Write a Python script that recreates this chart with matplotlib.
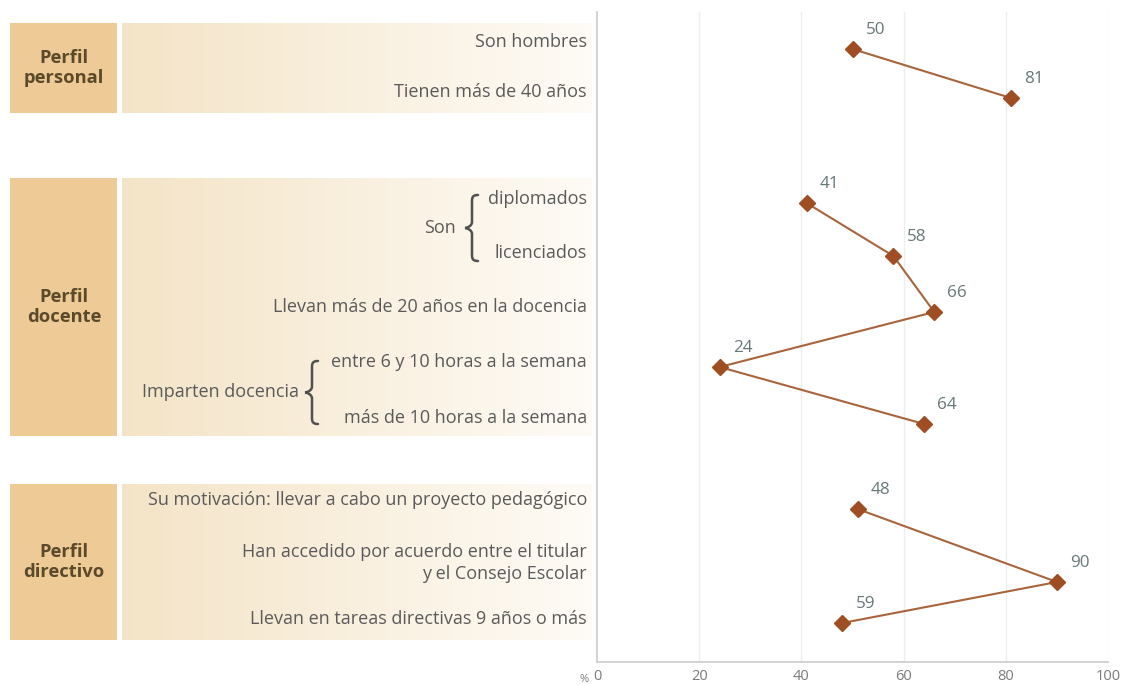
import matplotlib
matplotlib.use("Agg")
import matplotlib.pyplot as plt
import numpy as np
from matplotlib.path import Path
from matplotlib.patches import PathPatch, Rectangle

# ---------------- data ----------------
group_names = ["Perfil\npersonal", "Perfil\ndocente", "Perfil\ndirectivo"]
row_labels = [
    "Son hombres",
    "Tienen más de 40 años",
    "diplomados",
    "licenciados",
    "Llevan más de 20 años en la docencia",
    "entre 6 y 10 horas a la semana",
    "más de 10 horas a la semana",
    "Su motivación: llevar a cabo un proyecto pedagógico",
    "Han accedido por acuerdo entre el titular\ny el Consejo Escolar",
    "Llevan en tareas directivas 9 años o más",
]
row_group = [0, 0, 1, 1, 1, 1, 1, 2, 2, 2]
value_labels = [50, 81, 41, 58, 66, 24, 64, 48, 90, 59]      # printed values
plotted_values = [50, 81, 41, 58, 66, 24, 64, 51, 90, 48]    # where the marks sit in the picture
brace_labels = ["Son", "Imparten docencia"]
x_ticks = [0, 20, 40, 60, 80, 100]

# ---------------- layout (pixel units) ----------------
W, H = 1128, 685
row_y = [49, 98, 203, 256, 312, 367, 424, 509, 582, 623]
label_y = [42, 92, 199, 253, 307, 362, 418, 500, 563, 619]
group_box = [(23, 113), (178, 436), (484, 640)]
brace_spec = [  # text right x, text y, brace x, top y, bottom y
    (456, 228, 472, 195, 261),
    (299, 392, 312, 361, 424),
]
ax_left, ax_right, ax_top, ax_bottom = 597, 1108, 12, 662

FONT = "Open Sans"
TXT = "#5a5a5a"
BROWN = "#9e4e22"
LINE = "#a8643c"
VAL = "#667878"
FS = 13.0

fig = plt.figure(figsize=(W / 100, H / 100), dpi=100)
bg = fig.add_axes([0, 0, 1, 1], zorder=0)
bg.set_xlim(0, W)
bg.set_ylim(H, 0)
bg.axis("off")

# gradient for light boxes
grad = np.linspace(0, 1, 256)
c0 = np.array([244, 228, 199]) / 255
c1 = np.array([254, 251, 246]) / 255
img = (c0[None, :] * (1 - grad[:, None]) + c1[None, :] * grad[:, None])[None, :, :]

for gi, (t, b) in enumerate(group_box):
    bg.add_patch(Rectangle((10, t), 107, b - t, facecolor="#edca96", edgecolor="none"))
    bg.imshow(img, extent=(122, 592, b, t), aspect="auto", interpolation="bilinear", zorder=1)
    bg.text(64, (t + b) / 2, group_names[gi], ha="center", va="center", fontsize=13.2,
            fontweight="bold", color="#5a4a2a", family=FONT, linespacing=1.12, zorder=3)

for i, lab in enumerate(row_labels):
    bg.text(587, label_y[i], lab, ha="right", va="center", fontsize=FS, color=TXT,
            family=FONT, multialignment="right", linespacing=1.35, zorder=3)


def brace(x, y0, y1, col="#505050"):
    ym = (y0 + y1) / 2
    hook, tip = 6, 7
    verts = [
        (x + 6, y0),
        (x + 1, y0), (x, y0 + 2), (x, y0 + hook),
        (x, ym - 6),
        (x, ym - 2), (x - tip + 2, ym), (x - tip, ym),
        (x - tip + 2, ym), (x, ym + 2), (x, ym + 6),
        (x, y1 - hook),
        (x, y1 - 2), (x + 1, y1), (x + 6, y1),
    ]
    codes = [Path.MOVETO, Path.CURVE4, Path.CURVE4, Path.CURVE4, Path.LINETO,
             Path.CURVE4, Path.CURVE4, Path.CURVE4, Path.CURVE4, Path.CURVE4, Path.CURVE4,
             Path.LINETO, Path.CURVE4, Path.CURVE4, Path.CURVE4]
    bg.add_patch(PathPatch(Path(verts, codes), facecolor="none", edgecolor=col, lw=1.8,
                           capstyle="round", zorder=3))


for lab, (tx, ty, bx, by0, by1) in zip(brace_labels, brace_spec):
    bg.text(tx, ty, lab, ha="right", va="center", fontsize=FS, color=TXT, family=FONT, zorder=3)
    brace(bx, by0, by1)

# ---------------- plot axes ----------------
ax = fig.add_axes([ax_left / W, 1 - ax_bottom / H, (ax_right - ax_left) / W, (ax_bottom - ax_top) / H],
                  zorder=2)
ax.patch.set_alpha(0)
ax.set_xlim(0, 100)
ax.set_ylim(ax_bottom, ax_top)
for s in ["top", "right"]:
    ax.spines[s].set_visible(False)
for s in ["left", "bottom"]:
    ax.spines[s].set_color("#cfcfcf")
    ax.spines[s].set_linewidth(1.3)
ax.set_yticks([])
ax.set_xticks(x_ticks)
ax.set_xticklabels([str(v) for v in x_ticks], family=FONT, fontsize=10.5, color="#7a7a7a")
ax.tick_params(axis="x", length=0, pad=5)
for v in x_ticks[1:]:
    ax.axvline(v, color="#eeeeee", lw=1, zorder=0)
ax.annotate("%", xy=(0, 0), xycoords="axes fraction", xytext=(-6, -12.5), textcoords="offset points",
            ha="right", va="center", fontsize=8, color="#7a7a7a", family=FONT)

xs = np.array(plotted_values, dtype=float)
ys = np.array(row_y, dtype=float)
grp = np.array(row_group)
for g in range(len(group_names)):
    m = grp == g
    ax.plot(xs[m], ys[m], color=LINE, lw=1.5, zorder=3)
    ax.plot(xs[m], ys[m], linestyle="none", marker="D", markersize=8, color=BROWN, zorder=4)

for x, y, v in zip(xs, ys, value_labels):
    ax.annotate(str(v), (x, y), xytext=(16.5, 13.5), textcoords="offset points", ha="center",
                va="center", fontsize=12.3, color=VAL, family=FONT)

fig.savefig("out.png", dpi=100)
